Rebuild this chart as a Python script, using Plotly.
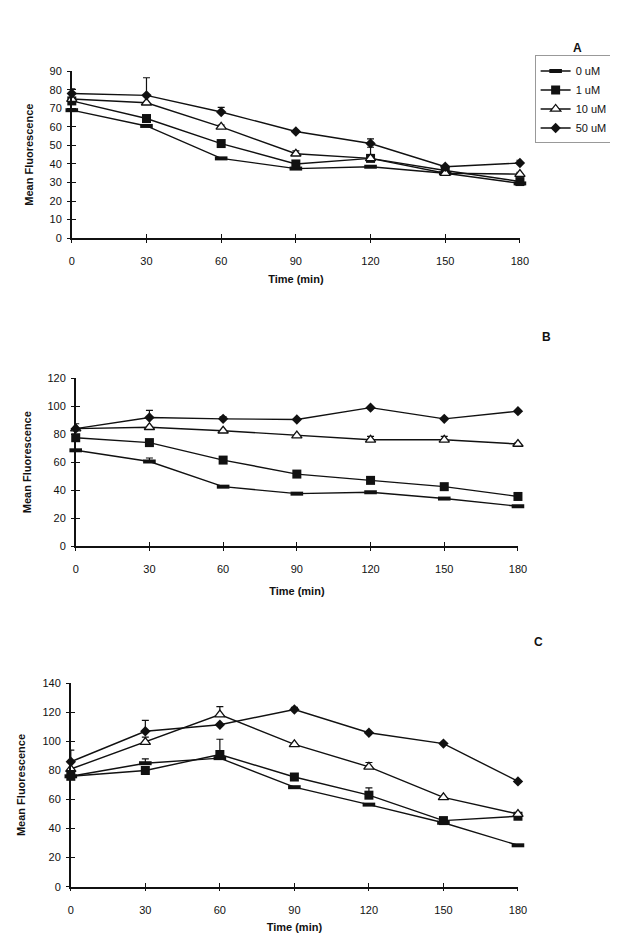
import plotly.graph_objects as go

time_min = [0, 30, 60, 90, 120, 150, 180]
series_names = ["0 uM", "1 uM", "10 uM", "50 uM"]

# Panel A
a_0uM = [69, 60.5, 43, 37.5, 38.5, 35, 29.5]
a_1uM = [74, 64.5, 51, 40, 43, 36.5, 30.5]
a_10uM = [75, 73, 60, 45.5, 43, 35, 34.5]
a_50uM = [78, 77, 68, 57.5, 51, 38.5, 40.5]
a_err_0uM = [0, 0, 0, 0, 0, 0, 0]
a_err_1uM = [0, 0, 0, 0, 0, 0, 0]
a_err_10uM = [3, 0, 1, 1.5, 6, 0, 1]
a_err_50uM = [2.5, 9.5, 2.5, 0, 2.5, 0, 1.5]

# Panel B
b_0uM = [68.5, 60.5, 42.5, 37.5, 38.5, 34, 28.5]
b_1uM = [77.5, 74, 61.5, 51.5, 47, 42.5, 35.5]
b_10uM = [84, 85, 82.5, 79, 76, 76, 73]
b_50uM = [84, 92, 91, 90.5, 99, 91, 96.5]
b_err_0uM = [0, 2.5, 0, 0, 0, 0, 0]
b_err_1uM = [0, 0, 0, 0, 0, 0, 0]
b_err_10uM = [0, 0, 0, 0, 2.5, 2.5, 1]
b_err_50uM = [3.5, 5, 1.5, 0, 0, 0, 0]

# Panel C
c_0uM = [76, 85, 88.5, 68.5, 56.5, 44, 28.5]
c_1uM = [76, 80, 91, 75.5, 63, 45.5, 48.5]
c_10uM = [81, 99.5, 118.5, 98, 82.5, 61.5, 50]
c_50uM = [86, 107, 111.5, 122, 106, 98.5, 72.5]
c_err_0uM = [0, 3, 0, 0, 0, 0, 0]
c_err_1uM = [0, 0, 10.5, 0, 5, 0, 0]
c_err_10uM = [0, 3.5, 5.5, 0, 3, 0, 0]
c_err_50uM = [8, 7.5, 0, 1.5, 0, 0, 0]

panel_labels = ["A", "B", "C"]
x_ticks = [0, 30, 60, 90, 120, 150, 180]
x_title = "Time (min)"
y_title = "Mean Fluorescence"

W, H = 618, 938
FONT = "Arial, Liberation Sans, sans-serif"
INK = "#111111"


def fx(px):
    return px / W


def fy(py):
    return 1 - py / H


panel_data = [
    ([a_0uM, a_1uM, a_10uM, a_50uM], [a_err_0uM, a_err_1uM, a_err_10uM, a_err_50uM], 90, 10),
    ([b_0uM, b_1uM, b_10uM, b_50uM], [b_err_0uM, b_err_1uM, b_err_10uM, b_err_50uM], 120, 20),
    ([c_0uM, c_1uM, c_10uM, c_50uM], [c_err_0uM, c_err_1uM, c_err_10uM, c_err_50uM], 140, 20),
]

# layout geometry in screen pixels
geom = [
    dict(xl=62, xr=519, yb=227, yt=58, xts=9, yts=14, lab=(584, 25)),
    dict(xl=66, xr=517, yb=539, yt=369, xts=13, yts=14, lab=(553, 327)),
    dict(xl=61, xr=517, yb=884, yt=678, xts=9, yts=15, lab=(545, 645)),
]

markers = [
    dict(symbol="line-ew", size=9, color=INK, line=dict(width=4, color=INK)),
    dict(symbol="square", size=9, color=INK, line=dict(width=0)),
    dict(symbol="triangle-up", size=9, color="white", line=dict(width=1.3, color=INK)),
    dict(symbol="diamond", size=8, color=INK, line=dict(width=0)),
]

fig = go.Figure()
layout = dict(
    width=W, height=H,
    margin=dict(l=0, r=0, t=0, b=0),
    paper_bgcolor="white", plot_bgcolor="white",
    font=dict(family=FONT, size=11, color=INK),
    showlegend=True,
    legend=dict(
        x=fx(534), y=fy(42), xanchor="left", yanchor="top",
        bordercolor="#999999", borderwidth=1, bgcolor="white",
        font=dict(size=11, family=FONT, color=INK),
        itemwidth=30, tracegroupgap=0,
    ),
    annotations=[],
)

for i, (vals, errs, ymax, dt) in enumerate(panel_data):
    n = i + 1
    g = geom[i]
    xs = "" if n == 1 else str(n)
    ov = str(n + 3)
    xdom = [fx(g["xl"]), fx(g["xr"])]
    ydom = [fy(g["yb"]), fy(g["yt"])]
    for k in range(4):
        fig.add_trace(go.Scatter(
            x=time_min, y=vals[k], name=series_names[k],
            mode="lines+markers",
            line=dict(color=INK, width=1.4),
            marker=markers[k],
            error_y=dict(type="data", array=errs[k], arrayminus=[0] * 7,
                         symmetric=False, color=INK, thickness=1.2, width=3.5),
            cliponaxis=False,
            xaxis="x" + xs, yaxis="y" + xs,
            showlegend=(n == 1), legendgroup=series_names[k],
        ))
    # dummy trace to carry overlay axes (inside ticks -> crossing tick marks)
    fig.add_trace(go.Scatter(x=[None], y=[None], xaxis="x" + ov, yaxis="y" + ov,
                             showlegend=False, hoverinfo="skip"))
    common_x = dict(range=[0, 180], tickvals=x_ticks, fixedrange=True, showgrid=False, zeroline=False)
    common_y = dict(range=[0, ymax], dtick=dt, tick0=0, fixedrange=True, showgrid=False, zeroline=False)
    layout["xaxis" + xs] = dict(
        domain=xdom, anchor="y" + xs, **common_x,
        showline=True, linecolor=INK, linewidth=1.5,
        ticks="outside", ticklen=3, tickwidth=1.2, tickcolor=INK,
        ticklabelstandoff=9,
        tickfont=dict(size=11, family=FONT, color=INK),
        title=dict(text="<b>" + x_title + "</b>", standoff=g["xts"],
                   font=dict(size=11, family=FONT, color=INK)),
    )
    layout["yaxis" + xs] = dict(
        domain=ydom, anchor="x" + xs, **common_y,
        showline=True, linecolor=INK, linewidth=1.5,
        ticks="outside", ticklen=3, tickwidth=1.2, tickcolor=INK,
        ticklabelstandoff=3,
        tickfont=dict(size=11, family=FONT, color=INK),
        title=dict(text="<b>" + y_title + "</b>", standoff=g["yts"],
                   font=dict(size=11, family=FONT, color=INK)),
    )
    layout["xaxis" + ov] = dict(
        overlaying="x" + xs, anchor="y" + xs, **common_x,
        showline=False, ticks="inside", ticklen=4, tickwidth=1.2, tickcolor=INK,
        showticklabels=False,
    )
    layout["yaxis" + ov] = dict(
        overlaying="y" + xs, anchor="x" + xs, **common_y,
        showline=False, ticks="inside", ticklen=4, tickwidth=1.2, tickcolor=INK,
        showticklabels=False,
    )
    lx, ly = g["lab"]
    layout["annotations"].append(dict(
        text="<b>" + panel_labels[i] + "</b>", x=fx(lx), y=fy(ly),
        xref="paper", yref="paper", showarrow=False,
        font=dict(size=12, family=FONT, color=INK),
    ))

fig.update_layout(**layout)
fig.write_html("out.html")
